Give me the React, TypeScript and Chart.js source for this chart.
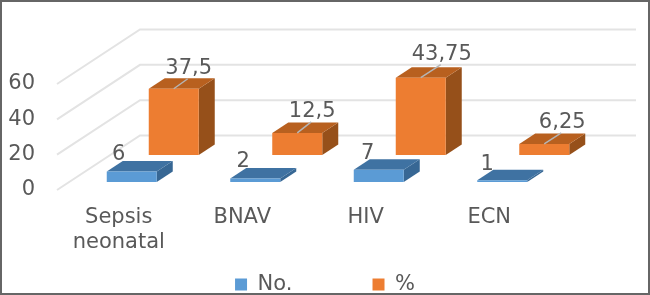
import React, { useEffect, useRef } from "react";
import { Chart, registerables } from "chart.js";

Chart.register(...registerables);

const categories = [["Sepsis", "neonatal"], "BNAV", "HIV", "ECN"];
const countValues = [6, 2, 7, 1];
const percentValues = [37.5, 12.5, 43.75, 6.25];
const yTicks = [0, 20, 40, 60];

const FONT = '"DejaVu Sans", sans-serif';
const TEXT = "#595959";
const GRID = "#E3E3E3";

// projection of the pseudo-3D scene
const WALL = { dx: 83, dy: -54.5, right: 636 };
const DEPTH = { dx: 16, dy: -10.5 };
const ROWS = [
  { dx: 13, dy: -8, front: "#5B9BD5", top: "#3F72A2", side: "#376794", labelDx: [-13, -12, -11, -15], labelDy: [-11, -11, -11, -10], leader: false },
  { dx: 55, dy: -35, front: "#ED7D31", top: "#B8601F", side: "#96501A", labelDx: [15, 15, 21, 18], labelDy: [-15, -16, -18, -16], leader: true },
];

const poly = (ctx: CanvasRenderingContext2D, pts: number[][], fill: string) => {
  ctx.beginPath();
  pts.forEach(([x, y], i) => (i ? ctx.lineTo(x, y) : ctx.moveTo(x, y)));
  ctx.closePath();
  ctx.fillStyle = fill;
  ctx.fill();
};

const scene3d = {
  id: "scene3d",
  beforeDatasetsDraw(chart: any) {
    const { ctx, scales, chartArea } = chart;
    ctx.save();
    ctx.strokeStyle = GRID;
    ctx.lineWidth = 2;
    yTicks.forEach((v) => {
      const y = scales.y.getPixelForValue(v);
      const x = chartArea.left;
      ctx.beginPath();
      ctx.moveTo(x, y);
      ctx.lineTo(x + WALL.dx, y + WALL.dy);
      ctx.lineTo(WALL.right, y + WALL.dy);
      ctx.stroke();
    });
    ctx.restore();
  },
  beforeDatasetDraw(chart: any, args: any) {
    const { ctx } = chart;
    const row = ROWS[args.index];
    args.meta.data.forEach((el: any) => {
      const l = el.x - el.width / 2 + row.dx;
      const r = l + el.width;
      const t = el.y + row.dy;
      const b = el.base + row.dy;
      poly(ctx, [[r, t], [r + DEPTH.dx, t + DEPTH.dy], [r + DEPTH.dx, b + DEPTH.dy], [r, b]], row.side);
      poly(ctx, [[l, t], [r, t], [r + DEPTH.dx, t + DEPTH.dy], [l + DEPTH.dx, t + DEPTH.dy]], row.top);
      poly(ctx, [[l, t], [r, t], [r, b], [l, b]], row.front);
    });
    return false;
  },
  afterDatasetsDraw(chart: any) {
    const { ctx } = chart;
    ctx.save();
    chart.data.datasets.forEach((ds: any, i: number) => {
      const row = ROWS[i];
      chart.getDatasetMeta(i).data.forEach((el: any, j: number) => {
        const cx = el.x + row.dx;
        const top = el.y + row.dy;
        const ldx = row.labelDx[j];
        const ldy = row.labelDy[j];
        if (row.leader) {
          ctx.strokeStyle = "#B5B5B5";
          ctx.lineWidth = 1.5;
          ctx.beginPath();
          ctx.moveTo(cx, top);
          ctx.lineTo(cx + ldx - 1, top + ldy + 5);
          ctx.stroke();
        }
        ctx.font = `21px ${FONT}`;
        ctx.fillStyle = TEXT;
        ctx.textAlign = "center";
        ctx.textBaseline = "alphabetic";
        ctx.fillText(String(ds.data[j]).replace(".", ","), cx + ldx, top + ldy);
      });
    });
    ctx.restore();
  },
};

export default function App() {
  const ref = useRef<HTMLCanvasElement>(null);
  useEffect(() => {
    const chart = new Chart(ref.current!, {
      type: "bar",
      plugins: [scene3d],
      data: {
        labels: categories as any,
        datasets: [
          { label: "No.", data: countValues, backgroundColor: ROWS[0].front, grouped: false, barThickness: 50 } as any,
          { label: "%", data: percentValues, backgroundColor: ROWS[1].front, grouped: false, barThickness: 50 } as any,
        ],
      },
      options: {
        responsive: false,
        animation: false,
        layout: { padding: { top: 84, right: 0, bottom: -10, left: 0 } },
        plugins: {
          title: { display: false },
          tooltip: { enabled: false },
          legend: {
            position: "bottom",
            labels: {
              boxWidth: 12,
              boxHeight: 12,
              padding: 0,
              color: TEXT,
              font: { family: FONT, size: 21 },
              generateLabels: (chart: any) =>
                chart.data.datasets.map((ds: any, i: number) => ({
                  text: i === 0 ? ds.label + " ".repeat(12) : ds.label,
                  fillStyle: ds.backgroundColor,
                  strokeStyle: ds.backgroundColor,
                  lineWidth: 0,
                  fontColor: TEXT,
                  datasetIndex: i,
                })),
            },
          },
        },
        scales: {
          x: {
            grid: { display: false },
            border: { display: false },
            afterFit: (s: any) => { s.height = 84; },
            ticks: {
              color: TEXT,
              font: { family: FONT, size: 21 },
              padding: 7,
              maxRotation: 0,
              autoSkip: false,
            },
          },
          y: {
            min: 0,
            max: 60,
            grid: { display: false },
            border: { display: false },
            afterFit: (s: any) => { s.width = 57; },
            ticks: {
              stepSize: 20,
              color: TEXT,
              font: { family: FONT, size: 21 },
              padding: 14,
            },
          },
          spacer: {
            position: "right",
            grid: { display: false },
            border: { display: false },
            ticks: { display: false },
            afterFit: (s: any) => { s.width = 99; },
          },
        },
      } as any,
    });
    return () => chart.destroy();
  }, []);
  return (
    <div style={{ position: "fixed", inset: 0, width: 650, height: 295, background: "#fff", overflow: "hidden" }}>
      <canvas ref={ref} width={650} height={295} style={{ display: "block", filter: "blur(0.5px)" }} />
      <div style={{ position: "absolute", inset: 0, boxSizing: "border-box", border: "2px solid #666", pointerEvents: "none" }} />
    </div>
  );
}
